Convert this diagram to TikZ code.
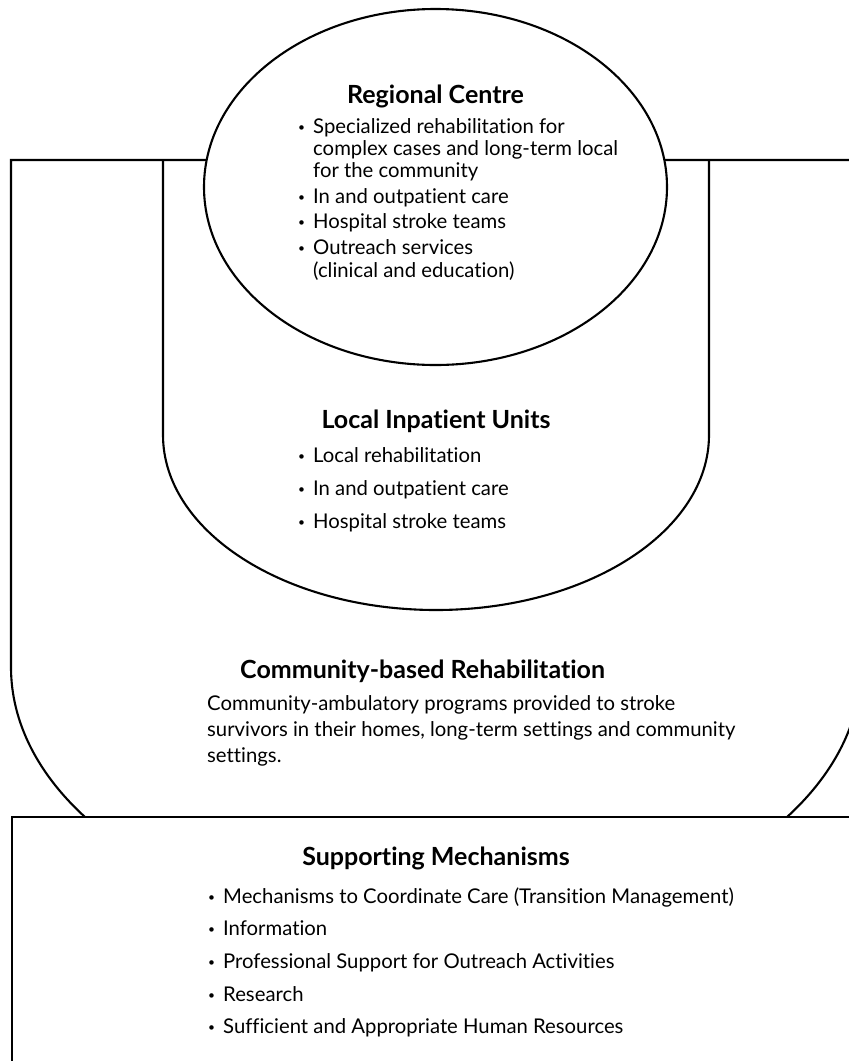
\documentclass[tikz,border=0pt]{standalone}
\usepackage{fontspec}
\setmainfont{Lato}[Ligatures=NoCommon]
\newcommand{\bul}{\makebox[15pt][l]{\fontsize{12}{12}\selectfont\raisebox{2pt}{•}}}
\begin{document}
\begin{tikzpicture}[x=1pt,y=1pt,
  outline/.style={draw=black,line width=2.1pt},
  heading/.style={font=\fontsize{25}{29}\selectfont\bfseries,anchor=base,inner sep=0pt},
  body/.style={font=\fontsize{20.3}{24}\selectfont,anchor=base west,inner sep=0pt}]
\useasboundingbox (0,0) rectangle (849,-1061);
\begin{scope}
\clip (0,0) rectangle (849,-1061);
% community-based rehabilitation: U shape cut off by the supporting box
\begin{scope}
\clip (0,0) rectangle (880,-817);
\draw[outline] (11,-160) -- (11,-667)
  arc[start angle=180,end angle=360,x radius=425,y radius=266]
  -- (861,-160) -- cycle;
\end{scope}
% local inpatient units
\draw[outline] (163,-160) -- (163,-435)
  arc[start angle=180,end angle=360,x radius=273,y radius=175]
  -- (709,-160);
% regional centre
\draw[outline,fill=white] (435.5,-187) ellipse [x radius=231.5,y radius=178];
% supporting mechanisms
\draw[outline,fill=white] (12,-817) rectangle (890,-1090);
\end{scope}

% Regional Centre
\node[heading] (rc) at (435.5,-103) {Regional Centre};
\node[body] (rc1) at (298,-133) {\bul Specialized rehabilitation for};
\node[body] (rc2) at (313,-155) {complex cases and long-term local};
\node[body] (rc3) at (313,-177) {for the community};
\node[body] (rc4) at (298,-203) {\bul In and outpatient care};
\node[body] (rc5) at (298,-228) {\bul Hospital stroke teams};
\node[body] (rc6) at (298,-254) {\bul Outreach services};
\node[body] (rc7) at (313,-277) {(clinical and education)};

% Local Inpatient Units
\node[heading] (li) at (436,-428) {Local Inpatient Units};
\node[body] (li1) at (298,-462) {\bul Local rehabilitation};
\node[body] (li2) at (298,-495) {\bul In and outpatient care};
\node[body] (li3) at (298,-528) {\bul Hospital stroke teams};

% Community-based Rehabilitation
\node[heading,anchor=base west] (cb) at (240,-678) {Community-based Rehabilitation};
\node[body] (cb1) at (207,-710) {Community-ambulatory programs provided to stroke};
\node[body] (cb2) at (207,-736) {survivors in their homes, long-term settings and community};
\node[body] (cb3) at (207,-762) {settings.};

% Supporting Mechanisms
\node[heading] (sm) at (436,-865) {Supporting Mechanisms};
\node[body] (sm1) at (208,-903) {\bul Mechanisms to Coordinate Care (Transition Management)};
\node[body] (sm2) at (208,-935) {\bul Information};
\node[body] (sm3) at (208,-968) {\bul Professional Support for Outreach Activities};
\node[body] (sm4) at (208,-1001) {\bul Research};
\node[body] (sm5) at (208,-1033) {\bul Sufficient and Appropriate Human Resources};
\end{tikzpicture}
\end{document}
